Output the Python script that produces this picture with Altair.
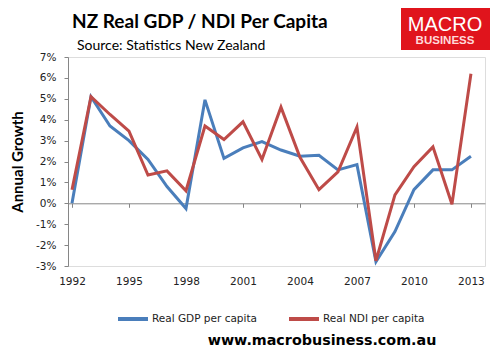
import altair as alt
import pandas as pd

years = list(range(1992, 2014))
gdp = [0.0, 5.1, 3.7, 3.0, 2.1, 0.8, -0.25, 4.95, 2.15, 2.65, 2.95, 2.55, 2.25, 2.3,
       1.6, 1.85, -2.8, -1.35, 0.65, 1.6, 1.6, 2.25]
ndi = [0.65, 5.1, 4.25, 3.45, 1.35, 1.55, 0.6, 3.7, 3.05, 3.9, 2.1, 4.6, 2.2, 0.65,
       1.5, 3.65, -2.75, 0.4, 1.75, 2.7, -0.05, 6.2]
series_names = ["Real GDP per capita", "Real NDI per capita"]
series_colors = ["#4A7EBB", "#BE4B48"]
x_ticks = [1992, 1995, 1998, 2001, 2004, 2007, 2010, 2013]
y_ticks = list(range(-3, 8))

TITLE = "NZ Real GDP / NDI Per Capita"
SUBTITLE = "Source: Statistics New Zealand"
FOOTER = "www.macrobusiness.com.au"

df = pd.DataFrame({
    "year": years * 2,
    "value": gdp + ndi,
    "series": [series_names[0]] * len(years) + [series_names[1]] * len(years),
})

W, H = 417, 209
zero_from_bottom = H * 3 / 10

lines = alt.Chart(df).mark_line(strokeWidth=3).encode(
    x=alt.X("year:Q",
            scale=alt.Scale(domain=[1991.79, 2013.74], nice=False, zero=False),
            axis=alt.Axis(values=x_ticks, format="d", title=None, grid=False,
                          offset=-zero_from_bottom, tickSize=4,
                          labelPadding=zero_from_bottom + 6,
                          domainColor="#868686", tickColor="#868686",
                          labelFont="DejaVu Sans", labelFontSize=10.5,
                          labelColor="#222222")),
    y=alt.Y("value:Q",
            scale=alt.Scale(domain=[-3, 7], nice=False, zero=False),
            axis=alt.Axis(values=y_ticks, labelExpr="datum.value + '%'",
                          title="Annual Growth", grid=False, tickSize=4,
                          labelPadding=8, domainColor="#868686", tickColor="#868686",
                          labelFont="DejaVu Sans", labelFontSize=10.5,
                          labelColor="#222222", titleFont="Lato",
                          titleFontSize=15, titleFontWeight="bold",
                          titleColor="#000000", titlePadding=10)),
    color=alt.Color("series:N",
                    scale=alt.Scale(domain=series_names, range=series_colors),
                    legend=alt.Legend(orient="none", legendX=48, legendY=245,
                                      direction="horizontal", title=None,
                                      symbolType="stroke", symbolSize=900,
                                      symbolStrokeWidth=4, labelFont="DejaVu Sans",
                                      labelFontSize=10.5, labelColor="#222222",
                                      labelOffset=2, columnPadding=24)),
)

title = alt.Chart(pd.DataFrame({"t": [TITLE]})).mark_text(
    font="Lato", fontSize=19, fontWeight="bold", align="left",
    baseline="alphabetic", color="#000000"
).encode(x=alt.value(4), y=alt.value(-29), text="t:N")

subtitle = alt.Chart(pd.DataFrame({"t": [SUBTITLE]})).mark_text(
    font="Lato", fontSize=14, align="left", baseline="alphabetic", color="#000000"
).encode(x=alt.value(9), y=alt.value(-7), text="t:N")

footer = alt.Chart(pd.DataFrame({"t": [FOOTER]})).mark_text(
    font="DejaVu Sans", fontSize=14.3, fontWeight="bold", align="center",
    baseline="alphabetic", color="#000000"
).encode(x=alt.value(254), y=alt.value(288), text="t:N")

logo_box = alt.Chart(pd.DataFrame({"t": ["logo"]})).mark_rect(color="#E0141C").encode(
    x=alt.value(333), x2=alt.value(422), y=alt.value(-51), y2=alt.value(-7))

logo_top = alt.Chart(pd.DataFrame({"t": ["MACRO"]})).mark_text(
    font="Liberation Sans", fontSize=20, align="center", baseline="alphabetic",
    color="#FFFFFF"
).encode(x=alt.value(377), y=alt.value(-26), text="t:N")

logo_bottom = alt.Chart(pd.DataFrame({"t": ["BUSINESS"]})).mark_text(
    font="Liberation Sans", fontSize=11.5, fontWeight="bold", align="center",
    baseline="alphabetic", color="#FFD9D9"
).encode(x=alt.value(377), y=alt.value(-13), text="t:N")

chart = alt.layer(lines, title, subtitle, footer, logo_box, logo_top, logo_bottom).properties(
    width=W, height=H,
    autosize=alt.AutoSizeParams(type="none"),
    padding={"left": 60, "top": 49, "right": 8, "bottom": 83},
).configure_view(fill="#F2F2F2", strokeWidth=0).configure(background="#FFFFFF")

chart.save("out.html", embed_options={"renderer": "svg", "actions": False})
